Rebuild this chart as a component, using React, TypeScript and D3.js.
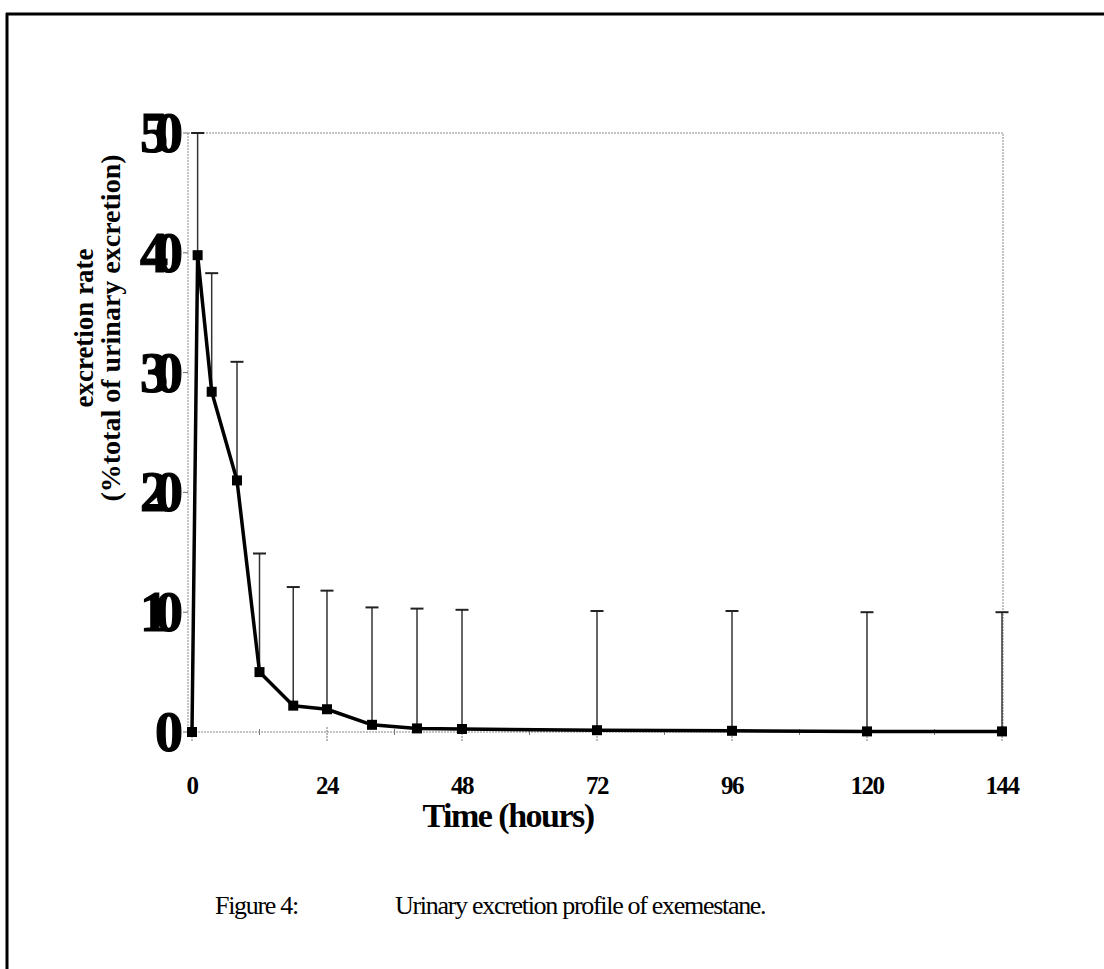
import React, { useEffect, useRef } from 'react';
import * as d3 from 'd3';

// time points (hours) and mean urinary excretion rate (% of total), upper SD
const hours = [0, 1, 3.5, 8, 12, 18, 24, 32, 40, 48, 72, 96, 120, 144];
const excretionRate = [0, 39.8, 28.4, 21.0, 5.0, 2.2, 1.9, 0.6, 0.3, 0.25, 0.15, 0.1, 0.05, 0.05];
const rateSd = [0, 10.2, 9.9, 9.9, 9.9, 9.9, 9.9, 9.8, 10.0, 9.95, 9.95, 10.0, 9.95, 9.95];

const yTickValues = [0, 10, 20, 30, 40, 50];
const xTickValues = [0, 24, 48, 72, 96, 120, 144];
const xMinorTicks = [12, 36, 60, 84, 108, 132];

const serif = "'Liberation Serif', 'Times New Roman', serif";

export default function App() {
  const ref = useRef<SVGSVGElement>(null);

  useEffect(() => {
    const svg = d3.select(ref.current);
    svg.selectAll('*').remove();

    const x = d3.scaleLinear().domain([0, 144]).range([192, 1002]);
    const y = d3.scaleLinear().domain([0, 50]).range([732, 133]);

    const data = hours.map((h, i) => ({ h, v: excretionRate[i], sd: rateSd[i] }));

    // page frame (scanned figure border, top and left only)
    svg.append('line').attr('x1', 6).attr('x2', 1104).attr('y1', 14).attr('y2', 14)
      .attr('stroke', '#000').attr('stroke-width', 3);
    svg.append('line').attr('x1', 7).attr('x2', 7).attr('y1', 13).attr('y2', 969)
      .attr('stroke', '#000').attr('stroke-width', 3);

    // plot area border, dotted grey
    svg.append('rect')
      .attr('x', 188).attr('y', y(50))
      .attr('width', x(144) + 1 - 188).attr('height', y(0) - y(50))
      .attr('fill', 'none').attr('stroke', '#888').attr('stroke-width', 1)
      .attr('stroke-dasharray', '2,1');

    // y ticks
    svg.selectAll('.ytick').data(yTickValues).join('line').attr('class', 'ytick')
      .attr('x1', 183).attr('x2', 188)
      .attr('y1', d => y(d)).attr('y2', d => y(d))
      .attr('stroke', '#777').attr('stroke-width', 1);

    // x ticks
    svg.selectAll('.xtick').data(xTickValues).join('line').attr('class', 'xtick')
      .attr('x1', d => x(d)).attr('x2', d => x(d))
      .attr('y1', y(0) - 5).attr('y2', y(0) + 10)
      .attr('stroke', '#777').attr('stroke-width', 1).attr('stroke-dasharray', '2,1');
    svg.selectAll('.xminor').data(xMinorTicks).join('line').attr('class', 'xminor')
      .attr('x1', d => x(d)).attr('x2', d => x(d))
      .attr('y1', y(0) - 3).attr('y2', y(0) + 3)
      .attr('stroke', '#777').attr('stroke-width', 1);

    // error bars (upper only)
    const bars = data.filter(d => d.sd > 0);
    svg.selectAll('.err').data(bars).join('line').attr('class', 'err')
      .attr('x1', d => x(d.h)).attr('x2', d => x(d.h))
      .attr('y1', d => y(d.v)).attr('y2', d => y(d.v + d.sd))
      .attr('stroke', '#333').attr('stroke-width', 1.5);
    svg.selectAll('.cap').data(bars).join('line').attr('class', 'cap')
      .attr('x1', d => x(d.h) - 6.5).attr('x2', d => x(d.h) + 6.5)
      .attr('y1', d => y(d.v + d.sd)).attr('y2', d => y(d.v + d.sd))
      .attr('stroke', '#222').attr('stroke-width', 2);

    // mean line
    const line = d3.line<{ h: number; v: number }>().x(d => x(d.h)).y(d => y(d.v));
    svg.append('path').datum(data).attr('d', line)
      .attr('fill', 'none').attr('stroke', '#000').attr('stroke-width', 3.5)
      .attr('stroke-linejoin', 'round');

    svg.selectAll('.pt').data(data).join('rect').attr('class', 'pt')
      .attr('x', d => x(d.h) - 5).attr('y', d => y(d.v) - 5)
      .attr('width', 10).attr('height', 10).attr('fill', '#000');

    // y tick labels (large, heavy, overlapping digits as in the scan)
    svg.selectAll('.ylab').data(yTickValues).join('text').attr('class', 'ylab')
      .attr('x', 170).attr('y', d => y(d) + 19)
      .attr('text-anchor', 'end')
      .attr('stroke', '#000').attr('stroke-width', 1.2)
      .style('font-family', serif).style('font-weight', 'bold')
      .style('font-size', '56px').style('letter-spacing', '-13px')
      .text(d => d);

    // x tick labels
    svg.selectAll('.xlab').data(xTickValues).join('text').attr('class', 'xlab')
      .attr('x', d => x(d)).attr('y', 794)
      .attr('text-anchor', 'middle')
      .style('font-family', serif).style('font-weight', 'bold')
      .style('font-size', '25px').style('letter-spacing', '-1.5px')
      .text(d => d);

    svg.append('text')
      .attr('x', 508).attr('y', 827).attr('text-anchor', 'middle')
      .style('font-family', serif).style('font-weight', 'bold')
      .style('font-size', '34px').style('letter-spacing', '-1.5px')
      .text('Time (hours)');

    svg.append('text')
      .attr('transform', 'translate(93, 328) rotate(-90)').attr('text-anchor', 'middle')
      .style('font-family', serif).style('font-weight', 'bold').style('font-size', '27px')
      .text('excretion rate');
    svg.append('text')
      .attr('transform', 'translate(120, 328) rotate(-90)').attr('text-anchor', 'middle')
      .style('font-family', serif).style('font-weight', 'bold').style('font-size', '28px')
      .text('(%total of urinary excretion)');

    // caption
    svg.append('text').attr('x', 215).attr('y', 914)
      .style('font-family', serif).style('font-size', '26px').style('letter-spacing', '-1.3px')
      .text('Figure 4:');
    svg.append('text').attr('x', 395).attr('y', 914)
      .style('font-family', serif).style('font-size', '26px').style('letter-spacing', '-1.3px')
      .text('Urinary excretion profile of exemestane.');
  }, []);

  return (
    <svg ref={ref} width={1104} height={969}
      style={{ position: 'absolute', left: 0, top: 0, background: '#fff' }} />
  );
}
